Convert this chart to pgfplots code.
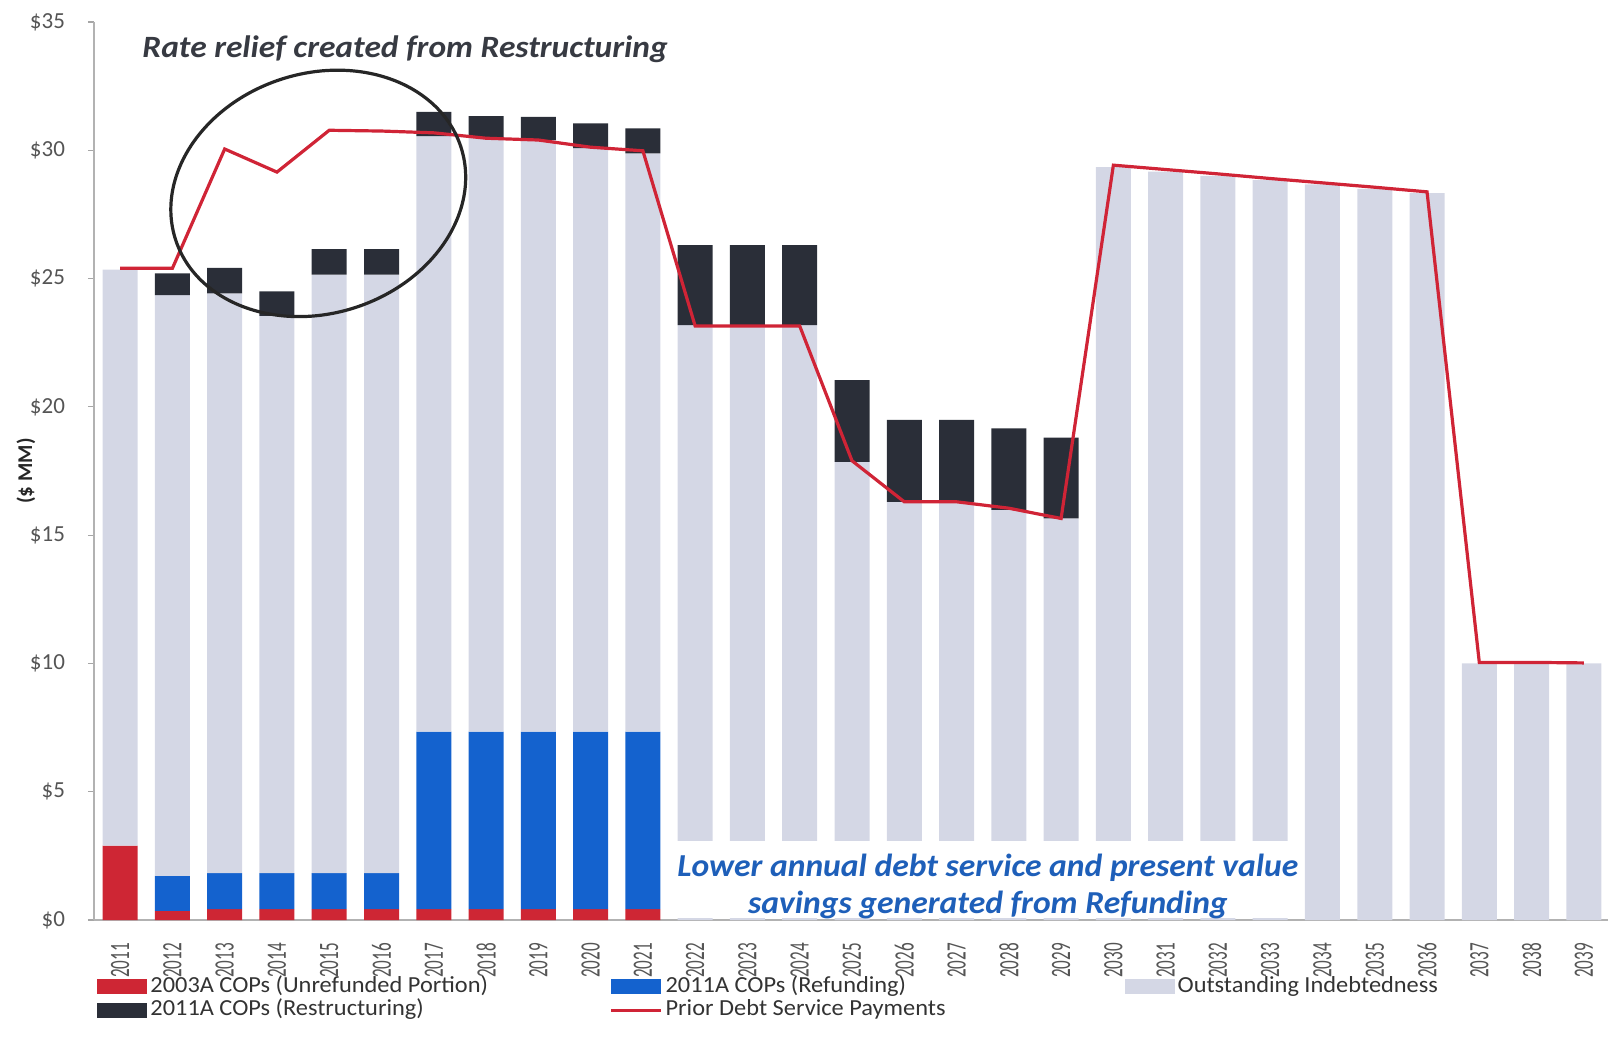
\documentclass[border=0pt]{standalone}
\usepackage{fontspec}
\setmainfont{Carlito}
\usepackage{pgfplots}
\usepackage{pgfplotstable}
\pgfplotsset{compat=1.18}
\usetikzlibrary{shapes.geometric}

\definecolor{cRed}{RGB}{206,38,52}
\definecolor{cBlue}{RGB}{20,98,206}
\definecolor{cGray}{RGB}{212,215,229}
\definecolor{cDark}{RGB}{42,46,56}
\definecolor{cLine}{RGB}{208,36,54}
\definecolor{cTick}{RGB}{85,85,85}
\definecolor{cAnnoBlue}{RGB}{30,95,185}
\definecolor{cAnnoDark}{RGB}{55,58,66}

\newcommand{\Y}[1]{\scalebox{0.61}[1]{#1}}
\newcommand{\LT}[2]{\makebox[#1][l]{\scalebox{1.06}[1]{#2}}}

\pgfplotsset{
  barlegend/.style={legend image code/.code={\path[##1,/tikz/.cd,draw=none] (0pt,-3.8pt) rectangle (25pt,3.8pt);}},
  linelegend/.style={legend image code/.code={\draw[##1] (0pt,0pt) -- (25pt,0pt);}},
}

\pgfplotstableread{
x red blue gray dark line
0  2.90 0.00 22.45 0.00 25.40
1  0.36 1.36 22.63 0.85 25.40
2  0.42 1.41 22.59 1.00 30.05
3  0.42 1.41 21.72 0.95 29.15
4  0.42 1.41 23.32 1.00 30.78
5  0.42 1.41 23.32 1.00 30.75
6  0.42 6.92 23.21 0.95 30.68
7  0.42 6.92 23.16 0.83 30.47
8  0.42 6.92 23.06 0.90 30.40
9  0.42 6.92 22.74 0.97 30.12
10 0.42 6.92 22.54 0.97 29.98
11 0.00 0.00 23.19 3.11 23.15
12 0.00 0.00 23.19 3.11 23.15
13 0.00 0.00 23.19 3.11 23.15
14 0.00 0.00 17.86 3.18 17.90
15 0.00 0.00 16.30 3.19 16.30
16 0.00 0.00 16.30 3.19 16.30
17 0.00 0.00 15.98 3.18 16.05
18 0.00 0.00 15.65 3.15 15.65
19 0.00 0.00 29.34 0.00 29.42
20 0.00 0.00 29.17 0.00 29.25
21 0.00 0.00 29.00 0.00 29.08
22 0.00 0.00 28.84 0.00 28.90
23 0.00 0.00 28.67 0.00 28.73
24 0.00 0.00 28.50 0.00 28.56
25 0.00 0.00 28.33 0.00 28.38
26 0.00 0.00 10.00 0.00 10.04
27 0.00 0.00 10.00 0.00 10.04
28 0.00 0.00 10.00 0.00 10.02
}\datatable

\begin{document}
\begin{tikzpicture}
\begin{axis}[
  scale only axis,
  width=758pt, height=449pt,
  xmin=-0.5, xmax=28.5,
  ymin=0, ymax=35,
  ybar stacked,
  reverse stacked plots=false,
  bar width=17.5pt,
  axis x line*=bottom,
  axis y line*=left,
  axis line style={draw=black!30, line width=0.6pt},
  xtick={0,...,28},
  xticklabels={\Y{2011},\Y{2012},\Y{2013},\Y{2014},\Y{2015},\Y{2016},\Y{2017},\Y{2018},\Y{2019},\Y{2020},\Y{2021},\Y{2022},\Y{2023},\Y{2024},\Y{2025},\Y{2026},\Y{2027},\Y{2028},\Y{2029},\Y{2030},\Y{2031},\Y{2032},\Y{2033},\Y{2034},\Y{2035},\Y{2036},\Y{2037},\Y{2038},\Y{2039}},
  xtick style={draw=none},
  xticklabel style={rotate=90, anchor=east, font=\fontsize{14}{15}\selectfont, text=cTick},
  xticklabel shift=5pt,
  ytick={0,5,...,35},
  yticklabels={\$0,\$5,\$10,\$15,\$20,\$25,\$30,\$35},
  ytick style={draw=black!35, line width=0.6pt},
  tick align=outside,
  major tick length=3pt,
  yticklabel style={font=\fontsize{11.5}{12}\selectfont, text=cTick},
  yticklabel shift=8pt,
  ylabel={\textbf{(\$ MM)}},
  ylabel style={at={(axis description cs:-0.0449,0.5)}, anchor=center, font=\fontsize{10.5}{12}\selectfont, text=black!85},
  legend columns=3,
  legend style={at={(axis description cs:0.002,-0.061)}, anchor=north west, draw=none, fill=none,
    font=\fontsize{11.5}{13}\selectfont, text=black!80, row sep=0.3pt, inner sep=0pt,
    nodes={inner xsep=1.5pt, inner ysep=0.5pt, text height=8pt, text depth=2.5pt}},
  legend cell align=left,
]
\addplot[fill=cRed, draw=none, barlegend] table[x=x, y=red] {\datatable};
\addlegendentry{\LT{228pt}{2003A COPs (Unrefunded Portion)}}
\addplot[fill=cBlue, draw=none, barlegend] table[x=x, y=blue] {\datatable};
\addlegendentry{\LT{228pt}{2011A COPs (Refunding)}}
\addplot[fill=cGray, draw=none, barlegend] table[x=x, y=gray] {\datatable};
\addlegendentry{\LT{130pt}{Outstanding Indebtedness}}
\addplot[fill=cDark, draw=none, barlegend] table[x=x, y=dark] {\datatable};
\addlegendentry{\LT{228pt}{2011A COPs (Restructuring)}}
\addplot[sharp plot, stack plots=false, draw=cLine, line width=1.6pt, fill=none, mark=none, linelegend] table[x=x, y=line] {\datatable};
\addlegendentry{\LT{228pt}{Prior Debt Service Payments}}

\fill[white] (axis cs:10.55,0.07) rectangle (axis cs:22.55,3.09);
\node[align=center, text=cAnnoBlue, font=\bfseries\itshape\fontsize{16}{18.5}\selectfont]
  at (axis cs:16.6,1.3) {\scalebox{1.05}[1]{Lower annual debt service and present value}\\\scalebox{1.05}[1]{savings generated from Refunding}};
\node[text=cAnnoDark, font=\bfseries\itshape\fontsize{15.5}{18}\selectfont]
  at (axis cs:5.45,33.95) {\scalebox{1.08}[1]{Rate relief created from Restructuring}};
\node[draw=black!85, line width=1.6pt, ellipse, minimum width=150pt, minimum height=120pt, inner sep=0pt, rotate=18]
  at (axis cs:3.79,28.32) {};
\end{axis}
\pgfresetboundingbox
\path (-47pt,-65.5pt) rectangle (757pt,460pt);
\end{tikzpicture}
\end{document}
